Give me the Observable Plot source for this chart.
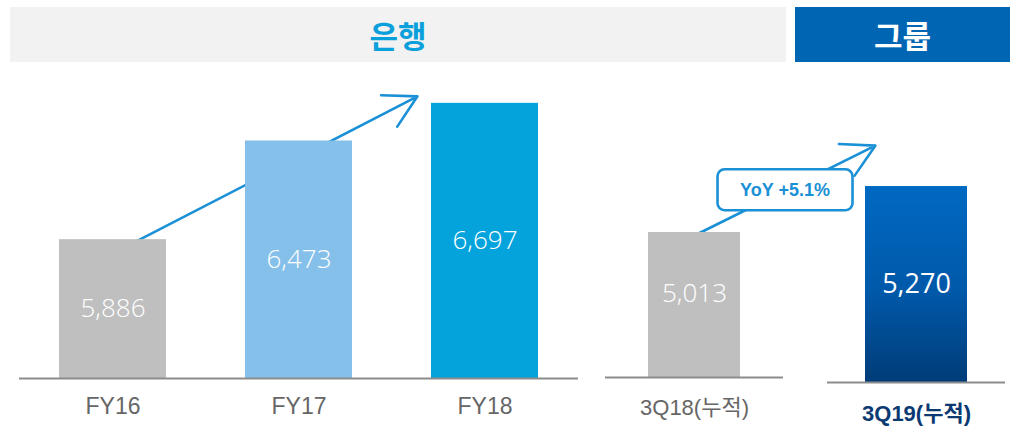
<!DOCTYPE html>
<html><head><meta charset="utf-8">
<script src="https://cdn.jsdelivr.net/npm/d3@7"></script>
<script src="https://cdn.jsdelivr.net/npm/@observablehq/plot@0.6"></script>
<style>
body{margin:0;background:#fff;}
#wrap{position:relative;width:1016px;height:426px;overflow:hidden;font-family:"Noto Sans CJK KR",sans-serif;}
.hdr{position:absolute;top:7px;height:55px;display:flex;align-items:center;justify-content:center;font-size:31px;font-weight:700;line-height:1;}
#h1{left:10px;width:776px;background:#f2f2f2;color:#0aa0dc;}
#h2{left:795px;width:215px;background:#0066b3;color:#fff;}
.panel{position:absolute;top:62px;}
</style></head><body>
<div id="wrap">
  <div class="hdr" id="h1"></div><div class="hdr" id="h2"></div>
  <div class="panel" id="left" style="left:0"></div>
  <div class="panel" id="right" style="left:590px"></div>
</div>
<script>
// ---- data ----
const headers = ["은행", "그룹"];
const bankCats = ["FY16", "FY17", "FY18"];
const bankValues = [5886, 6473, 6697];
const groupCats = ["3Q18(누적)", "3Q19(누적)"];
const groupValues = [5013, 5270];
const yoyLabel = "YoY +5.1%";
// annotation arrows (value coordinates)
const bankArrow = [{x1: "FY16", y1: 5804, x2: "FY18", y2: 6946}];
const groupArrow = [{x1: "3Q18(누적)", y1: 4998, x2: "3Q19(누적)", y2: 5554}];
const yoyAt = 0.41; // fraction along the group arrow

document.getElementById("h1").textContent = headers[0];
document.getElementById("h2").textContent = headers[1];

const fmt = d3.format(",");
const latin = "'Liberation Sans', 'Noto Sans CJK KR', sans-serif";
const light = "'Open Sans', 'Noto Sans', sans-serif";
const arrowColor = "#1a90d6";

// ---- left panel ----
const bankBase = 5060, bankTop = 6940;
const bank = bankCats.map((c, i) => ({cat: c, value: bankValues[i]}));
const bankColors = ["#c0bfbf", "#85c0ea", "#04a3dc"];

const left = Plot.plot({
  width: 590, height: 364,
  marginTop: 0, marginBottom: 48, marginLeft: 19, marginRight: 12,
  style: {background: "transparent", overflow: "visible"},
  x: {domain: bankCats, paddingInner: 0.426, paddingOuter: 0.21, axis: null},
  y: {domain: [bankBase, bankTop], axis: null},
  color: {type: "identity"},
  marks: [
    Plot.arrow(bankArrow, {x1: "x1", y1: "y1", x2: "x2", y2: "y2", stroke: arrowColor, strokeWidth: 2.6, headLength: 21, headAngle: 58, insetEnd: 76}),
    Plot.barY(bank, {x: "cat", y1: bankBase, y2: "value", fill: (d, i) => bankColors[i]}),
    Plot.ruleY([bankBase], {stroke: "#8c8c8c", strokeWidth: 2}),
    Plot.text(bank, {x: "cat", y: d => (bankBase + d.value) / 2, text: d => fmt(d.value), fill: "white", fontSize: 26, fontWeight: 300, fontFamily: light}),
    Plot.text(bank, {x: "cat", y: bankBase, dy: 28, text: "cat", fill: "#666666", fontSize: 23, fontFamily: latin})
  ]
});
document.getElementById("left").appendChild(left);

// ---- right panel ----
const groupBase = 4282, groupTop = 5870;
const group = groupCats.map((c, i) => ({cat: c, value: groupValues[i]}));

const right = Plot.plot({
  width: 426, height: 364,
  marginTop: 0, marginBottom: 49, marginLeft: 15, marginRight: 11,
  style: {background: "transparent", overflow: "visible"},
  x: {domain: groupCats, paddingInner: 0.2, paddingOuter: 0, axis: null},
  y: {domain: [groupBase, groupTop], axis: null},
  marks: [
    () => {
      const g = d3.create("svg:g");
      const lg = g.append("defs").append("linearGradient")
        .attr("id", "grad3q19").attr("x1", 0).attr("y1", 0).attr("x2", 0).attr("y2", 1);
      lg.append("stop").attr("offset", "0%").attr("stop-color", "#0069c2");
      lg.append("stop").attr("offset", "55%").attr("stop-color", "#0058a8");
      lg.append("stop").attr("offset", "100%").attr("stop-color", "#003c78");
      return g.node();
    },
    Plot.arrow(groupArrow, {x1: "x1", y1: "y1", x2: "x2", y2: "y2", stroke: arrowColor, strokeWidth: 2.6, headLength: 21, headAngle: 58, insetEnd: 46}),
    (index, scales) => {
      const sx = scales.x, sy = scales.y;
      const bw = typeof sx.bandwidth === "function" ? sx.bandwidth() : 0;
      const a = groupArrow[0];
      const X1 = sx(a.x1) + bw / 2, X2 = sx(a.x2) + bw / 2;
      const Y1 = sy(a.y1), Y2 = sy(a.y2);
      const cx = X1 + yoyAt * (X2 - X1), cy = Y1 + yoyAt * (Y2 - Y1);
      const g = d3.create("svg:g");
      g.append("rect").attr("x", cx - 67.5).attr("y", cy - 20.5).attr("width", 135).attr("height", 41)
        .attr("rx", 7).attr("fill", "white").attr("stroke", arrowColor).attr("stroke-width", 2.6);
      g.append("text").attr("x", cx).attr("y", cy).attr("dy", "0.36em").attr("text-anchor", "middle")
        .attr("fill", arrowColor).attr("font-size", 18).attr("font-weight", 700)
        .attr("font-family", "'Liberation Sans', sans-serif").text(yoyLabel);
      return g.node();
    },
    Plot.barY([group[0]], {x: "cat", y1: groupBase, y2: "value", fill: "#c0bfbf", insetLeft: 43, insetRight: 43}),
    Plot.barY([group[1]], {x: "cat", y1: groupBase, y2: "value", fill: "url(#grad3q19)", insetLeft: 38, insetRight: 38, dy: 5}),
    Plot.tickY([group[0]], {x: "cat", y: groupBase, stroke: "#8c8c8c", strokeWidth: 2}),
    Plot.tickY([group[1]], {x: "cat", y: groupBase, stroke: "#8c8c8c", strokeWidth: 2, dy: 5}),
    Plot.text([group[0]], {x: "cat", y: d => (groupBase + d.value) / 2, dy: -11, text: d => fmt(d.value), fill: "white", fontSize: 26, fontWeight: 300, fontFamily: light}),
    Plot.text([group[1]], {x: "cat", y: d => (groupBase + d.value) / 2, dy: 5, text: d => fmt(d.value), fill: "white", fontSize: 27, fontFamily: light}),
    Plot.text([group[0]], {x: "cat", y: groupBase, dy: 30, text: "cat", fill: "#666666", fontSize: 22, fontFamily: latin}),
    Plot.text([group[1]], {x: "cat", y: groupBase, dy: 36, text: "cat", fill: "#0b3a73", fontSize: 22, fontWeight: 700, fontFamily: latin})
  ]
});
document.getElementById("right").appendChild(right);
</script>
</body></html>
